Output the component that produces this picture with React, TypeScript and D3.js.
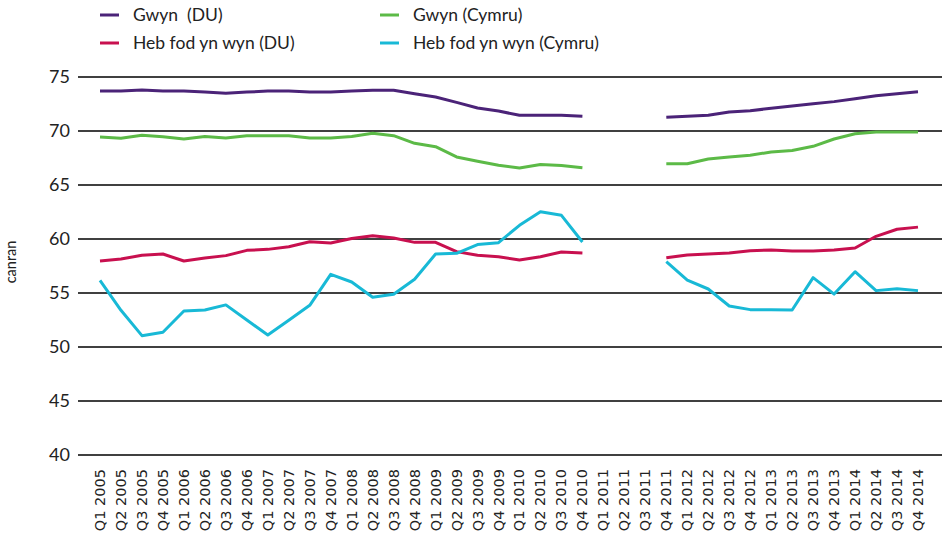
import React from "react";
import * as d3 from "d3";

const quarters: string[] = [];
const years = [2005, 2006, 2007, 2008, 2009, 2010, 2011, 2012, 2013, 2014];
years.forEach(y => [1, 2, 3, 4].forEach(q => quarters.push(`Q${q} ${y}`)));

const gwynDU = [73.7, 73.7, 73.8, 73.7, 73.7, 73.6, 73.5, 73.6, 73.7, 73.7, 73.6, 73.6,
  73.7, 73.77, 73.77, 73.45, 73.15, 72.65, 72.13, 71.85, 71.45, 71.45, 71.45, 71.36,
  null, null, null, 71.27, 71.36, 71.45, 71.76, 71.88, 72.1, 72.31, 72.53, 72.72, 72.99, 73.27, 73.45, 73.64];

const gwynCymru = [69.44, 69.32, 69.6, 69.47, 69.26, 69.5, 69.35, 69.57, 69.57, 69.57, 69.35, 69.35,
  69.5, 69.8, 69.57, 68.86, 68.55, 67.6, 67.2, 66.83, 66.57, 66.9, 66.8, 66.6,
  null, null, null, 66.97, 66.97, 67.4, 67.6, 67.75, 68.06, 68.2, 68.58, 69.26, 69.75, 69.9, 69.9, 69.9];

const hebDU = [57.96, 58.15, 58.49, 58.61, 57.96, 58.24, 58.46, 58.95, 59.04, 59.29, 59.75, 59.63,
  60.05, 60.3, 60.09, 59.69, 59.69, 58.83, 58.49, 58.36, 58.06, 58.36, 58.8, 58.7,
  null, null, null, 58.27, 58.52, 58.61, 58.7, 58.92, 58.98, 58.89, 58.89, 58.98, 59.17, 60.25, 60.9, 61.1];

const hebCymru = [56.17, 53.4, 51.05, 51.36, 53.33, 53.43, 53.9, 52.5, 51.11, 52.47, 53.86, 56.73,
  56.02, 54.6, 54.88, 56.27, 58.61, 58.67, 59.48, 59.66, 61.27, 62.53, 62.19, 59.72,
  null, null, null, 57.9, 56.2, 55.37, 53.8, 53.46, 53.46, 53.43, 56.42, 54.9, 56.97, 55.22, 55.4, 55.22];

const yTicks = [40, 45, 50, 55, 60, 65, 70, 75];

const series = [
  { name: "Gwyn  (DU)", values: gwynDU, color: "#4b2378" },
  { name: "Gwyn (Cymru)", values: gwynCymru, color: "#5cba47" },
  { name: "Heb fod yn wyn (DU)", values: hebDU, color: "#c8104f" },
  { name: "Heb fod yn wyn (Cymru)", values: hebCymru, color: "#18b9d6" },
];

const W = 942;
const H = 541;

export default function App() {
  const x = d3.scalePoint<string>().domain(quarters).range([100, 918]);
  const y = d3.scaleLinear().domain([40, 75]).range([455, 77]);

  const lineGen = d3
    .line<number | null>()
    .defined(d => d != null)
    .x((_, i) => x(quarters[i]) as number)
    .y(d => y(d as number));

  // legend slots: two columns, two rows
  const legendPos = [
    [100, 15],
    [380, 15],
    [100, 43],
    [380, 43],
  ];

  return (
    <svg width={W} height={H} style={{ position: "absolute", left: 0, top: 0, background: "#fff" }}>
      {yTicks.map(t => (
        <g key={t}>
          <line x1={78} x2={W} y1={y(t)} y2={y(t)} stroke="#000" strokeWidth={1.4} />
          <text x={70} y={y(t)} dy="0.35em" textAnchor="end" fontFamily="Lato, sans-serif" fontSize={18} fill="#222">
            {t}
          </text>
        </g>
      ))}
      <text
        transform={`translate(11,262) rotate(-90)`}
        textAnchor="middle"
        dy="0.35em"
        fontFamily="Lato, sans-serif"
        fontSize={14.5}
        fill="#222"
      >
        canran
      </text>
      {quarters.map(q => (
        <text
          key={q}
          transform={`translate(${(x(q) as number) + 5},469) rotate(-90)`}
          textAnchor="end"
          fontFamily="DejaVu Sans, sans-serif"
          fontSize={14.5}
          fill="#222"
        >
          {q}
        </text>
      ))}
      {series.map(s => (
        <path key={s.name} d={lineGen(s.values) || ""} fill="none" stroke={s.color} strokeWidth={3} strokeLinejoin="round" />
      ))}
      {series.map((s, i) => (
        <g key={s.name} transform={`translate(${legendPos[i][0]},${legendPos[i][1]})`}>
          <line x1={0} x2={19} y1={0} y2={0} stroke={s.color} strokeWidth={3} />
          <text x={33} y={0} dy="0.35em" fontFamily="Lato, sans-serif" fontSize={17.5} fill="#222" style={{ whiteSpace: "pre" }}>
            {s.name}
          </text>
        </g>
      ))}
    </svg>
  );
}
